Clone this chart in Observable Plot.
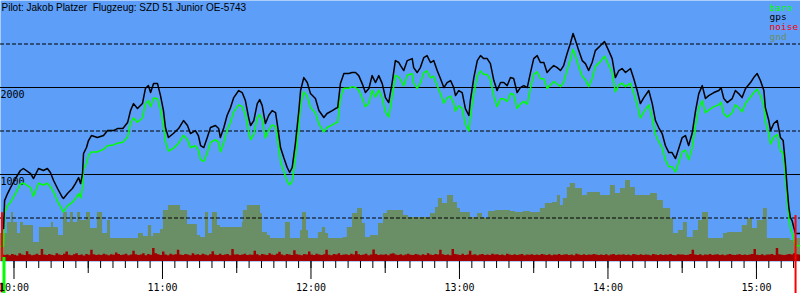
<!DOCTYPE html>
<html><head><meta charset="utf-8">
<script src="https://cdn.jsdelivr.net/npm/d3@7"></script>
<script src="https://cdn.jsdelivr.net/npm/@observablehq/plot@0.6"></script>
<style>
html,body{margin:0;padding:0;background:#fff;}
#chart svg text{white-space:pre;}
</style></head><body><div id="chart"></div>
<script>
// ---- data (minutes after 10:00 local time) ----
const title = "Pilot: Jakob Platzer  Flugzeug: SZD 51 Junior OE-5743";
const legendLabels = ["baro", "gps", "noise", "gnd"];
const hourTicks = ["10:00","11:00","12:00","13:00","14:00","15:00"];
const halfTicks = ["10:30","11:30","12:30","13:30","14:30"];
const solidLevels = [1000, 2000];
const dashedLevels = [500, 1500, 2500];

const minutes = [-5.4,-4.2,-3.8,-2.6,-1.4,0.6,2.6,3.8,6.7,7.9,9.9,11.9,13.5,14.7,16.0,17.6,19.6,20.0,21.6,23.6,24.8,26.1,26.9,27.7,28.1,29.3,30.1,31.3,33.7,36.2,37.8,40.2,41.8,44.0,45.9,47.1,48.3,49.9,51.9,53.1,54.3,55.2,56.4,58.0,59.2,60.4,61.2,62.4,64.4,66.5,68.5,70.1,71.3,73.3,74.5,
 75.4,76.7,78.1,79.4,81.4,82.7,83.4,84.8,86.1,87.5,88.8,90.8,92.2,93.5,94.9,95.6,96.9,98.3,99.3,100.3,101.6,102.9,104.3,105.7,106.6,107.7,109.0,110.4,111.4,112.4,113.7,115.1,115.8,117.1,118.5,119.8,121.8,123.2,125.2,126.5,128.6,129.9,130.8,131.9,133.3,135.3,136.6,138.0,139.3,140.7,142.0,143.4,144.7,146.1,147.4,148.8,150.1,151.4,152.8,154.1,155.5,156.2,
 157.5,158.9,160.9,161.5,162.9,164.2,165.6,166.9,168.3,169.6,171.0,172.3,173.7,175.0,176.4,177.7,178.4,179.7,181.1,182.4,183.8,184.4,185.8,187.2,188.5,189.8,191.2,192.5,193.9,195.2,196.6,197.9,199.3,200.6,201.9,203.3,204.6,206.0,207.4,208.7,210.0,211.4,212.7,214.1,215.4,216.8,218.1,219.5,220.8,222.1,223.5,224.8,225.9,226.9,228.2,229.6,230.9,232.2,233.6,234.9,
 237.0,238.6,240.3,241.7,243.0,244.4,245.7,247.1,249.1,250.4,251.8,253.1,254.5,256.5,257.9,259.2,260.5,261.9,263.2,264.6,265.9,267.3,268.6,270.0,271.3,272.6,274.0,275.4,276.7,278.1,279.4,280.7,282.8,284.8,285.7,286.8,288.2,290.2,291.5,292.8,294.2,295.6,297.6,298.9,300.3,301.6,303.0,303.6,305.0,305.7,307.0,308.4,309.7,310.8,311.7,312.4,313.1,313.7,314.4,315.1,315.8,317.8];

const gps = [null,380,700,781,850,954,1046,1069,1011,954,1069,1046,1069,1023,931,839,735,724,781,839,896,965,896,1011,1241,1310,1390,1448,1425,1448,1505,1505,1528,1528,1597,1735,1815,1758,1815,1988,2022,1942,2045,2045,1907,1735,1540,1425,1471,1528,1620,1563,1471,1505,1448,
 1333,1310,1425,1540,1563,1528,1425,1540,1678,1769,1884,1965,1942,1850,1643,1563,1620,1815,1861,1792,1586,1678,1735,1712,1540,1310,1195,1080,1023,1080,1356,1735,1965,2114,2057,1930,1873,1735,1655,1701,1735,1758,1769,2045,2160,2160,2172,2172,2137,2045,1942,1988,2137,2057,2137,2045,1884,1827,2057,2309,2287,2252,
 2195,2309,2332,2229,2172,2229,2344,2367,2287,2309,2195,2103,1999,2057,2080,1999,1907,1965,1942,1758,1678,1850,2114,2309,2367,2332,2332,2275,2080,1965,2057,2057,2022,2114,2103,1942,1999,2022,1999,2172,2332,2367,2287,2287,2172,2218,2252,2229,2195,2252,2390,2505,2620,2539,2424,2309,2275,2195,2287,2424,
 2482,2528,2424,2332,2114,2195,2218,2172,2218,2103,1965,1815,1884,1965,1815,1620,1540,1471,1333,1252,1252,1183,1298,1425,1448,1333,1471,1735,1930,2022,1873,1907,1942,1965,1999,1873,1827,1873,1965,1930,1884,1988,2057,2114,2160,2080,1965,1769,1620,1505,1586,1620,1425,1390,1126,850,620,506,471,391,322,322];

const baro = [172,172,560,640,680,780,890,900,850,750,900,880,900,860,800,690,590,570,640,680,720,780,730,850,1060,1130,1220,1260,1260,1290,1330,1340,1360,1370,1430,1590,1650,1600,1650,1810,1850,1780,1880,1870,1740,1570,1380,1270,1300,1360,1450,1400,1310,1330,1280,
 1170,1150,1250,1370,1400,1370,1260,1370,1510,1600,1720,1800,1780,1690,1480,1400,1460,1650,1690,1630,1420,1510,1570,1550,1380,1150,1040,920,880,920,1190,1570,1800,1950,1900,1770,1710,1580,1490,1540,1570,1590,1600,1880,1990,1990,2010,2000,1970,1880,1780,1820,1970,1890,1970,1880,1720,1660,1890,2140,2120,2090,
 2020,2140,2160,2050,1990,2050,2170,2190,2110,2130,2020,1930,1820,1880,1900,1820,1730,1790,1760,1580,1500,1660,1930,2130,2190,2150,2150,2090,1900,1780,1870,1870,1840,1930,1920,1760,1810,1840,1810,1990,2150,2180,2100,2100,1990,2030,2070,2040,2010,2060,2200,2320,2440,2360,2240,2130,2090,2010,2100,2240,
 2300,2360,2260,2170,1950,2030,2050,2010,2050,1940,1800,1650,1720,1800,1650,1460,1380,1310,1170,1090,1090,1030,1140,1260,1280,1170,1300,1570,1760,1850,1710,1740,1780,1800,1830,1700,1660,1710,1800,1770,1720,1820,1890,1940,1980,1910,1800,1610,1470,1350,1430,1460,1270,1250,990,720,500,380,330,250,180,180];

// "gnd" sensor level – step values, same vertical units
const gndMinutes = [-5.45,-2.63,-1.01,-0.2,1.41,2.63,3.84,7.88,10.3,15.15,
 15.96,17.98,20.0,21.6,22.8,24.0,25.7,26.9,29.3,30.9,
 33.7,35.8,37.8,39.0,50.3,52.3,54.3,55.6,56.4,59.2,
 60.4,62.4,67.3,70.1,74.1,75.4,77.4,78.6,80.2,82.2,
 83.4,92.3,92.7,94.3,99.6,100.4,102.4,103.6,109.7,111.7,
 115.8,116.6,118.2,119.0,123.0,124.6,125.9,127.1,133.1,134.7,
 136.8,138.8,140.8,142.0,144.0,147.3,149.3,150.9,157.4,159.4,
 168.3,170.3,171.5,173.1,175.2,177.6,179.2,180.4,184.4,187.3,
 189.3,190.5,191.7,194.5,200.6,202.6,205.9,208.7,212.7,214.7,
 217.6,219.6,220.8,222.0,223.6,224.8,226.9,229.7,231.7,237.0,
 241.0,243.0,245.1,247.1,249.1,251.1,257.2,260.0,262.4,265.3,
 266.5,268.5,270.5,272.1,274.5,276.6,278.2,280.6,286.7,288.3,
 292.3,294.3,296.4,298.4,300.4,302.8,304.4,313.7,315.8,317.8];
const gnd = [322,448,563,448,322,448,414,218,391,448,
 391,299,563,448,563,448,563,471,563,379,
 563,322,471,264,322,287,414,287,322,368,
 586,643,586,425,299,276,563,322,563,414,
 391,448,586,643,552,333,299,264,448,264,
 356,563,356,264,333,391,322,264,276,391,
 552,609,437,276,299,437,552,586,529,506,
 552,620,724,666,758,678,609,563,506,552,
 506,494,575,586,575,563,575,563,609,666,
 678,758,643,724,850,896,839,758,793,758,
 873,781,839,931,850,758,781,701,609,494,
 322,356,448,276,356,471,563,264,322,333,
 333,414,494,379,471,609,264,241,264,264];

// noise, one reading per minute from 09:55
const noiseStart = -5;
const noise = [78,70,76,66,80,73,64,88,76,70,113,78,66,73,84,70,138,76,68,80,
 73,66,88,76,70,82,108,73,66,78,90,70,76,64,80,73,128,78,70,76,
 68,84,76,66,78,72,98,80,68,76,82,66,74,118,78,70,76,88,66,80,
 73,148,90,78,70,108,76,66,84,72,78,128,74,68,80,76,66,88,72,78,
 70,82,74,66,78,113,76,70,84,68,76,80,66,138,74,78,70,76,82,68,
 76,72,118,78,66,80,74,70,88,76,68,82,106,74,66,80,76,70,123,78,
 72,66,80,76,110,74,68,82,76,70,78,128,72,66,80,74,88,70,76,78,
 68,82,74,116,78,70,76,84,66,74,133,80,68,76,72,78,66,82,88,74,
 70,78,66,76,82,72,68,80,74,66,78,70,88,76,68,80,74,128,78,70,
 76,66,138,80,74,70,82,68,76,118,72,78,66,74,80,70,76,68,82,74,
 78,70,76,66,82,74,70,78,68,76,80,66,74,72,78,70,76,68,80,74,
 70,78,66,76,72,80,68,74,78,70,76,66,82,74,70,78,68,76,72,80,
 74,68,76,70,78,66,74,80,68,76,72,78,70,74,66,80,76,70,78,68,
 76,72,66,80,74,70,78,68,76,72,80,70,66,78,74,76,68,72,80,128,
 74,70,78,66,76,72,80,68,74,78,70,76,66,74,80,72,68,76,78,70,
 74,68,76,80,138,72,70,78,66,76,74,80,68,148,78,72,70,76,80,74,
 88,78,76];

// launch / landing markers
const eventMinutes = [-4.85, -4.85, -4.04, 315.8];
const eventTop = [560, -250, 46, 528];
const eventBottom = [0, -360, -368, -368];

// ---- styles ----
const BLUE = "#5c9ef8", GND = "#6a8e66", NOISE = "#a00000";
const legendColors = ["#00ff00", "#000000", "#ff0000", GND];
const eventColors = ["#ff0000", NOISE, "#00ff00", "#ff0000"];
const eventWidths = [2, 3, 3, 2];
const MONO = "DejaVu Sans Mono";

const base = Date.UTC(2000, 0, 1, 10, 0, 0);
const at = m => new Date(base + m * 60000);
const clock = s => { const [h, m] = s.split(":").map(Number); return at((h - 10) * 60 + m); };

const flight = minutes.map((m, i) => ({t: at(m), gps: gps[i], baro: baro[i]}));
const gndData = gndMinutes.map((m, i) => ({t: at(m), v: gnd[i]}));
const noiseData = noise.map((v, i) => ({t: at(noiseStart + i), v}));
noiseData.push({t: at(noiseStart + noise.length), v: noise[noise.length - 1]});
const events = eventMinutes.map((m, i) => ({t: at(m), y1: eventBottom[i], y2: eventTop[i], c: eventColors[i], w: eventWidths[i]}));

const minorTicks = d3.utcMinute.every(5).range(clock("10:00"), clock("15:16"));
const fmt = d3.utcFormat("%H:%M");
const legendDy = [3.6, 13.2, 22.8, 32.4];

const marks = [
  Plot.frame({fill: BLUE, stroke: null}),
  Plot.areaY(gndData, {x: "t", y: "v", curve: "step-after", fill: GND}),
  Plot.areaY(noiseData, {x: "t", y: "v", curve: "step-after", fill: NOISE}),
  Plot.ruleY(solidLevels, {stroke: "#000"}),
  Plot.ruleY(dashedLevels, {stroke: "#000", strokeDasharray: "4,2"}),
  Plot.text(solidLevels, {y: d => d, frameAnchor: "left", text: d => String(d), textAnchor: "start", dy: 7, fontFamily: MONO, fontSize: 10, fill: "#000"}),
  Plot.line(flight, {x: "t", y: "baro", stroke: "#00ff00", strokeWidth: 1.5}),
  Plot.line(flight.filter(d => d.gps != null), {x: "t", y: "gps", stroke: "#000", strokeWidth: 1.5}),
  ...events.map(e => Plot.ruleX([e], {x: "t", y1: "y1", y2: "y2", stroke: e.c, strokeWidth: e.w})),
  Plot.axisX({ticks: minorTicks, tickSize: 7, tickFormat: () => "", label: null, stroke: "#000"}),
  Plot.axisX({ticks: halfTicks.map(clock), tickSize: 12, tickFormat: () => "", label: null, stroke: "#000"}),
  Plot.axisX({ticks: hourTicks.map(clock), tickSize: 18, tickPadding: 4, tickFormat: fmt, label: null, stroke: "#000", fill: "#000", fontFamily: MONO, fontSize: 10}),
  Plot.text([title], {frameAnchor: "top-left", dx: 1, dy: 3, text: d => d, textAnchor: "start", lineAnchor: "top", fontFamily: "Liberation Sans", fontSize: 10, fill: "#000"}),
  ...legendLabels.map((l, i) => Plot.text([l], {frameAnchor: "top-left", dx: 769, dy: legendDy[i], text: d => d, textAnchor: "start", lineAnchor: "top", fontFamily: MONO, fontSize: 9.5, fill: legendColors[i]}))
];

const chart = Plot.plot({
  width: 800, height: 300,
  marginTop: 0, marginRight: 0, marginBottom: 39, marginLeft: 0,
  style: {background: "transparent", fontFamily: MONO, fontSize: "10px", color: "#000", overflow: "visible"},
  x: {type: "utc", domain: [at(-5.45), at(317.8)], axis: null},
  y: {domain: [0, 3000], axis: null},
  marks
});
document.getElementById("chart").appendChild(chart);
</script>
</body></html>
